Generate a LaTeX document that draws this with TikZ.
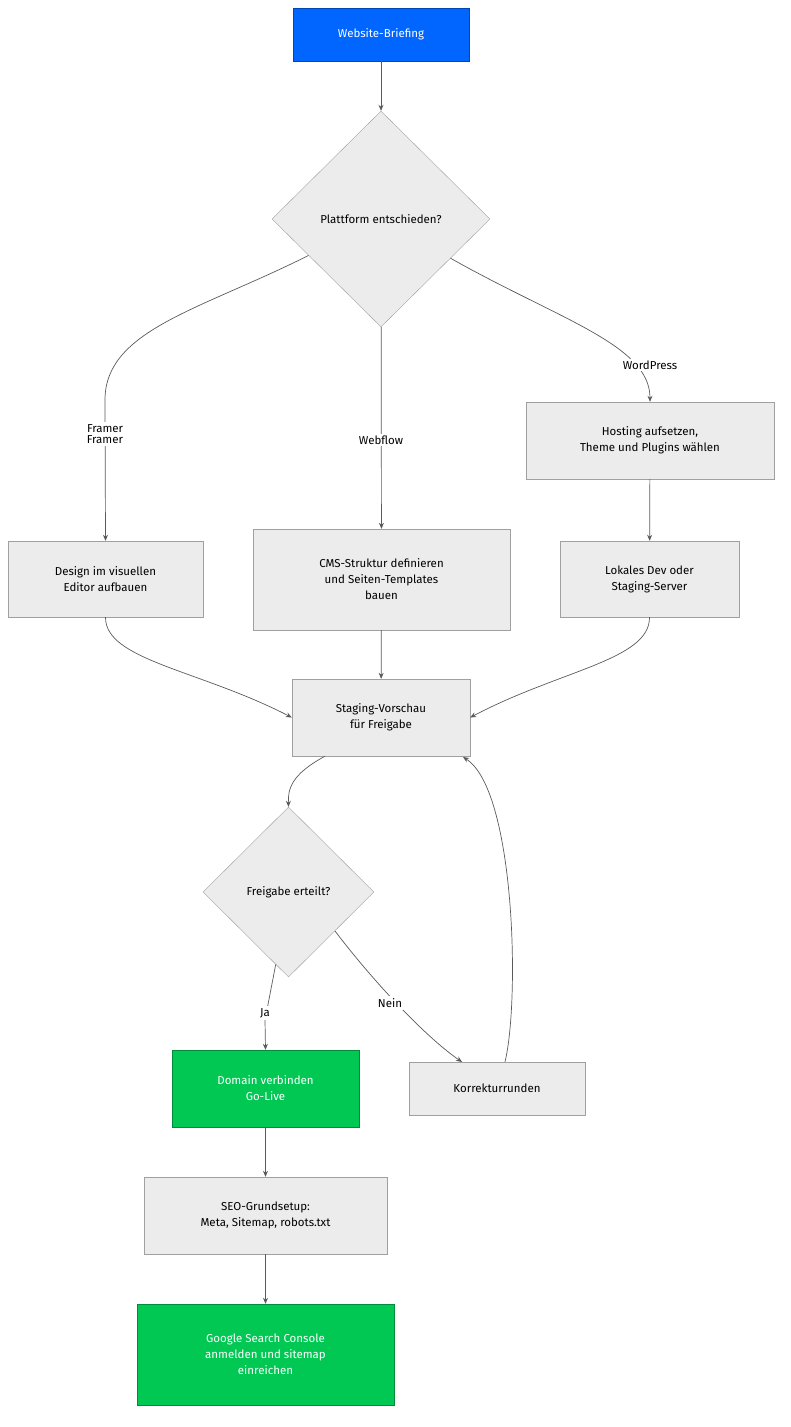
\documentclass[tikz,border=0pt]{standalone}
\usepackage{fontspec}
\setmainfont{Fira Sans}
\usetikzlibrary{shapes.geometric,arrows.meta}
\definecolor{boxfill}{HTML}{ECECEC}
\definecolor{boxline}{HTML}{A0A0A0}
\definecolor{blueb}{HTML}{0066FF}
\definecolor{greenb}{HTML}{00C853}
\definecolor{edge}{HTML}{5A5A5A}
\begin{document}
\begin{tikzpicture}[x=1pt,y=-1pt,font=\fontsize{11.5}{16}\selectfont,
  box/.style={draw=boxline,fill=boxfill,align=center,inner sep=0pt},
  dia/.style={draw=boxline,fill=boxfill,diamond,aspect=1,inner sep=0pt,align=center},
  arr/.style={draw=edge,line width=0.7pt,-{Stealth[length=6pt,width=5pt]}},
  lbl/.style={fill=white,inner sep=2pt}]
\useasboundingbox (0,0) rectangle (790,1427);
\node[box,draw=blueb!70!black,fill=blueb,text=white,minimum width=176,minimum height=53] (brief) at (381,34.5) {Website-Briefing};
\node[dia,minimum width=218,minimum height=216] (d1) at (381,219) {Plattform entschieden?};
\node[box,minimum width=195,minimum height=76] (framer) at (105.5,579) {Design im visuellen\\Editor aufbauen};
\node[box,minimum width=257,minimum height=101] (webflow) at (381.5,579.5) {CMS-Struktur definieren\\und Seiten-Templates\\bauen};
\node[box,minimum width=248,minimum height=77] (hosting) at (650,440.5) {Hosting aufsetzen,\\Theme und Plugins wählen};
\node[box,minimum width=179,minimum height=76] (lokal) at (649.5,579) {Lokales Dev oder\\Staging-Server};
\node[box,minimum width=178,minimum height=77] (staging) at (381,717.5) {Staging-Vorschau\\für Freigabe};
\node[dia,minimum width=171,minimum height=170] (d2) at (288.5,892) {Freigabe erteilt?};
\node[box,draw=greenb!70!black,fill=greenb,text=white,minimum width=187,minimum height=77] (domain) at (265.5,1088.5) {Domain verbinden\\Go-Live};
\node[box,minimum width=176,minimum height=53] (korr) at (497,1088.5) {Korrekturrunden};
\node[box,minimum width=243,minimum height=77] (seo) at (265.5,1215.5) {SEO-Grundsetup:\\Meta, Sitemap, robots.txt};
\node[box,draw=greenb!70!black,fill=greenb,text=white,minimum width=257,minimum height=101] (google) at (265.5,1354.5) {Google Search Console\\anmelden und sitemap\\einreichen};

\draw[arr] (brief) -- (d1);
\draw[arr] (d1) .. controls (200,310) and (105,330) .. (105,400) -- (framer.north) node[lbl,pos=0.2] (lf) at (105,440) {Framer};
\node[lbl] at (105,440) {Framer};
\draw[arr] (d1) -- (webflow) ;
\node[lbl] at (381,440) {Webflow};
\draw[arr] (d1) .. controls (560,320) and (650,345) .. (hosting.north);
\node[lbl] at (650,365) {WordPress};
\draw[arr] (hosting) -- (lokal);
\draw[arr] (framer.south) .. controls (105,660) and (200,670) .. (staging.west);
\draw[arr] (webflow) -- (staging);
\draw[arr] (lokal.south) .. controls (650,660) and (560,670) .. (staging.east);
\draw[arr] (staging.south -| 325,0) .. controls (290,775) and (288,790) .. (d2.north);
\draw[arr] (d2.-100) -- (265,1020) -- (domain.north);
\node[lbl] at (265,1013) {Ja};
\draw[arr] (d2.-40) .. controls (380,990) and (430,1040) .. (462,1062);
\node[lbl] at (390,1003) {Nein};
\draw[arr] (korr.north -| 505,0) .. controls (520,1000) and (515,790) .. (463,757);
\draw[arr] (domain) -- (seo);
\draw[arr] (seo) -- (google);
\end{tikzpicture}
\end{document}
